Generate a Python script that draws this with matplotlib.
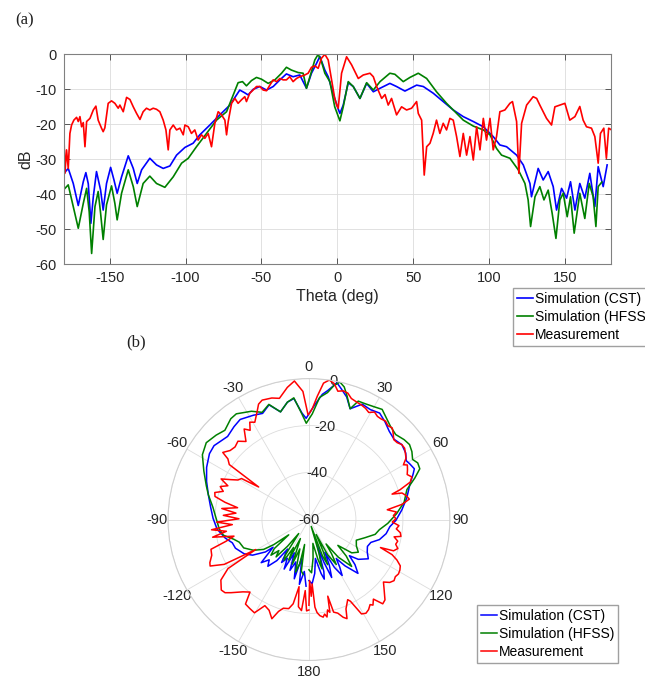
import matplotlib
matplotlib.use("Agg")
import matplotlib.pyplot as plt
import numpy as np

# Angles (deg) and gains (dB)
theta_cst = [-180, -177.2, -173.9, -170.6, -167.3, -165.6, -164, -162.3, -160.7, -158.6,
             -155.9, -154.2, -152, -149.3, -147.1, -145, -142.1, -137.7, -134.4, -131.8,
             -128.9, -123.5, -119.1, -114.7, -110.3, -105.9, -100.4, -95, -90.6, -84,
             -77.4, -70.8, -66.4, -64.3, -61, -58.8, -55.5, -51.1, -46.7, -42.3,
             -37.9, -33.6, -29.2, -24.8, -20.4, -17.1, -13.8, -11.6, -8.3, -6.1,
             -2.9, 0, 1.6, 3.8, 7.1, 10.4, 14.8, 19.2, 23.6, 28,
             34.5, 38.9, 44.4, 52.1, 56.5, 63, 69.6, 76.2, 82.8, 89.4,
             96, 102.5, 106.9, 111.3, 117.9, 122.3, 126.7, 127.7, 132.1, 135.4,
             138.7, 142, 144.2, 147.5, 150.8, 153.4, 156.3, 159.5, 162.8, 166.1,
             169.4, 171.6, 174.9, 177.5]
db_cst = [-34, -32.6, -36.9, -43.2, -36.4, -33.8, -37, -48.3, -40.7, -33.5,
          -38.8, -44.5, -36.9, -32.3, -35.9, -39.7, -35, -29, -32.6, -36.9,
          -33, -29.7, -31.6, -32.6, -31.9, -28.8, -26.6, -25.4, -23, -20.2,
          -17.3, -14.5, -11.6, -10.2, -11, -11.6, -10, -9.2, -10.2, -9.2,
          -7.3, -5.6, -6.4, -5.9, -9.7, -5.4, -2.6, -0.6, -4.5, -6.4,
          -11.1, -15, -16.9, -14.5, -8.1, -9.2, -12.6, -8.3, -10.7, -9.7,
          -8.3, -9.2, -10.5, -8.8, -9.2, -11.1, -13.5, -15.9, -17.8, -19.2,
          -20.7, -23.5, -25.9, -26.4, -28.8, -31.6, -36.9, -40.7, -32.6, -35.9,
          -33.5, -37.8, -44.5, -38.3, -41.1, -36.4, -44.5, -36.9, -41.1, -34,
          -43.5, -32.1, -37.8, -31.6]

theta_hfss = [-180, -177.2, -173.9, -170.6, -167.3, -165.1, -163.4, -161.8, -159.6, -157.5,
              -155.9, -154.2, -152, -148.7, -146.5, -145, -142.1, -137.7, -134.4, -131.8,
              -127.9, -123.5, -119.1, -113.6, -108.1, -102.6, -98.2, -92.8, -86.2, -79.6,
              -73, -68.6, -65.4, -62.5, -59.9, -56.6, -53.3, -50, -45.6, -41.2,
              -36.8, -33.6, -30.3, -25.9, -22.6, -20.4, -17.1, -14.9, -12.7, -10.5,
              -8.3, -5, -1.8, 1.6, 3.8, 7.1, 10.4, 14.8, 19.2, 23.6,
              28, 34.5, 37.8, 43.3, 47.7, 53.2, 58.7, 65.2, 71.8, 76.2,
              82.8, 89.4, 96, 100.4, 104.7, 108, 113.5, 119, 123.4, 125.5,
              127.1, 130, 133.2, 135.9, 138.7, 141.3, 143.8, 146.4, 148.6, 151.2,
              153.4, 155.8, 159.5, 162.8, 165.7, 168.3, 170.1, 171.6, 174]
db_hfss = [-38.6, -37.3, -43.5, -49.7, -42.6, -38.3, -45, -56.9, -43.5, -39.2,
           -45.4, -52.9, -43, -37.6, -42.6, -47.3, -39.7, -33, -37.8, -43.5,
           -36.9, -34.8, -36.9, -38, -35, -31.1, -29.7, -26.4, -22.6, -18.8,
           -16.4, -11.6, -8.1, -7.8, -9, -7.5, -6.6, -7.1, -8.3, -7.3,
           -5.4, -3.7, -4.5, -5.2, -5.4, -9.7, -4.9, -1.6, 0, -2.1,
           -5.4, -7.8, -15, -19, -15, -7.8, -9.2, -12.6, -8.1, -10.2,
           -7.8, -5.4, -5.7, -7.8, -6.6, -5.4, -6.9, -10.7, -14, -15.9,
           -18.8, -20.5, -21.6, -23, -26.9, -28.8, -29.7, -33, -36.9, -41.6,
           -49.2, -40.7, -37.8, -41.6, -38.8, -45.4, -52.6, -41.6, -39.7, -46.4,
           -40.7, -51.1, -39.7, -46.9, -36.9, -40.7, -49.2, -37.8, -36.5]

theta_meas = [-180, -179.4, -178.3, -177.2, -176.1, -175, -173.5, -171.7, -170.6, -169.5,
              -168.4, -167.3, -166.2, -165.1, -162.9, -160.7, -159, -157.5, -155.3, -154.2,
              -153.1, -150.9, -148.7, -146.5, -144.3, -143.2, -141, -138.8, -136.6, -134.4,
              -132.2, -130, -127.9, -125.7, -123.5, -121.3, -119.1, -116.9, -114.7, -112.9,
              -111.4, -110.3, -108.1, -105.9, -103.7, -101.5, -100.4, -98.2, -96.1, -93.9,
              -91.7, -89.5, -87.3, -85.1, -82.9, -80.7, -78.5, -76.3, -74.1, -73,
              -71.9, -69.7, -67.5, -65.4, -63.2, -61, -59.9, -57.7, -55.5, -53.3,
              -51.1, -48.9, -46.7, -44.5, -42.3, -40.1, -37.9, -35.7, -33.6, -31.4,
              -29.2, -27, -24.8, -21.5, -19.3, -17.1, -14.9, -12.7, -10.5, -8.3,
              -6.1, -3.9, -1.8, -0.5, 0.5, 2.7, 6, 9.3, 13.7, 17,
              21.4, 23.6, 25.8, 29.1, 31.3, 33.4, 35.6, 38.9, 42.2, 45.5,
              48.8, 52.1, 53.2, 55.4, 57.1, 58.7, 60.9, 63, 65.2, 67.4,
              69.6, 71.8, 74, 76.2, 78.4, 80.6, 82.8, 85, 87.2, 89.4,
              91.6, 93.8, 96, 98.1, 100.4, 102.5, 104.7, 106.9, 110.2, 113.5,
              115.2, 117.9, 119.4, 121.2, 124.5, 128.8, 131.1, 133.2, 137.6, 140.9,
              143.1, 146.4, 149.7, 152.9, 156.3, 159.5, 161.7, 163.9, 167.2, 169.4,
              171.6, 173.1, 175.3, 177, 178.5, 180]
db_meas = [-23.5, -34, -27.3, -32.6, -22.6, -20.2, -18.8, -18, -19.2, -17.8,
           -20.7, -19.5, -26.4, -19.2, -18.3, -15.9, -14.8, -18.8, -21.1, -22.1,
           -21, -14, -13.3, -14, -15.4, -14.5, -16.4, -12.3, -12.9, -15,
           -16.9, -18.6, -16.4, -15.4, -15.9, -15.4, -15.7, -16.4, -18.8, -21.6,
           -27.3, -21.6, -20.2, -21.6, -21.1, -23, -20.2, -20.7, -22.6, -21.6,
           -24.5, -23, -24, -22.6, -26.4, -19.7, -16.4, -17.3, -18.8, -23,
           -19.2, -14, -12.6, -14, -13, -12.1, -13.5, -11.1, -10.2, -9.2,
           -9.2, -10.2, -10.4, -8.8, -7.3, -7.8, -6.9, -7.3, -7.3, -6.4,
           -7.8, -6.9, -6.4, -5.9, -5.4, -3.7, -3.3, -4, -1.1, 0,
           -1.6, -7.3, -12.6, -14.5, -15.4, -5.4, -0.7, -3, -6.9, -5.9,
           -5.4, -6.4, -9.2, -12.6, -11.5, -14.5, -12.6, -17.3, -15, -15.9,
           -15.4, -13.5, -16.9, -18.8, -34.5, -26.4, -25.4, -22.6, -18.8, -22.6,
           -19.7, -21.6, -18.3, -18.8, -23.5, -29.2, -22.6, -28.8, -23.5, -30.2,
           -20.7, -27.3, -18.3, -24.5, -18.3, -27.3, -23.5, -16.4, -15.9, -14,
           -13.5, -19.2, -34, -19.7, -14.5, -12.1, -12.6, -14.5, -18.3, -20.2,
           -15, -14.5, -14, -18.8, -17.8, -14.9, -18.8, -20.7, -21.1, -23.5,
           -31.1, -22.6, -21.1, -29.7, -21.1, -21.5]

x_ticks = [-150, -100, -50, 0, 50, 100, 150]
y_ticks = [0, -10, -20, -30, -40, -50, -60]
polar_angles = [0, 30, 60, 90, 120, 150, 180, 210, 240, 270, 300, 330]
polar_labels = ["0", "30", "60", "90", "120", "150", "180",
                "-150", "-120", "-90", "-60", "-30"]
r_ticks = [-60, -40, -20, 0]
series_labels = ["Simulation (CST)", "Simulation (HFSS)", "Measurement"]

COLORS = ["#0000ff", "#008000", "#ff0000"]
SANS = ["Liberation Sans", "DejaVu Sans"]
SERIF = ["Liberation Serif", "DejaVu Serif"]
TXT = "#262626"
GRID = "#dcdcdc"

plt.rcParams["font.family"] = SANS
plt.rcParams["font.size"] = 10
plt.rcParams["axes.unicode_minus"] = False  # plain hyphens, as in the source figure

fig = plt.figure(figsize=(6.45, 6.8), dpi=100)

series = [
    (theta_cst, db_cst),
    (theta_hfss, db_hfss),
    (theta_meas, db_meas),
]

# ---- (a) Cartesian pattern ----
ax = fig.add_axes([0.0992, 0.6113, 0.848, 0.3088])
for (th, db), c, lab in zip(series, COLORS, series_labels):
    ax.plot(th, db, color=c, lw=1.2, label=lab)
ax.set_xlim(-180, 180)
ax.set_ylim(-60, 0)
ax.set_xticks(x_ticks)
ax.set_yticks(y_ticks)
ax.grid(True, color=GRID, lw=0.6)
ax.set_axisbelow(True)
ax.tick_params(direction="in", top=True, right=True, length=4, width=0.6,
               colors="#404040", labelcolor=TXT, labelsize=10.5, pad=5)
for sp in ax.spines.values():
    sp.set_color("#808080")
    sp.set_linewidth(0.8)
ax.set_xlabel("Theta (deg)", fontsize=11.5, color=TXT, labelpad=3)
ax.set_ylabel("dB", fontsize=11.5, color=TXT, labelpad=2)
leg_kw = dict(fontsize=10, fancybox=False, framealpha=1, edgecolor="#a0a0a0",
              handlelength=1.15, handletextpad=0.1, labelspacing=0.28,
              borderpad=0.3, borderaxespad=0)
fig.legend(*ax.get_legend_handles_labels(), loc="upper left",
           bbox_to_anchor=(513 / 645, 1 - 288 / 680), **leg_kw)
fig.text(25 / 645, 1 - 20 / 680, "(a)", family=SERIF, fontsize=12,
         ha="center", va="center", color="#202020")

# ---- (b) polar pattern (drawn mirrored, as in the original) ----
pax = fig.add_axes([0.2605, 0.0285, 0.437, 0.415], projection="polar")
pax.set_theta_zero_location("N")
pax.set_theta_direction(-1)
for (th, db), c, lab in zip(series, COLORS, series_labels):
    pax.plot(np.deg2rad(-np.asarray(th)), db, color=c, lw=1.1, label=lab)
pax.set_rlim(-60, 0)
pax.set_rticks(r_ticks)
pax.set_yticklabels([str(v) for v in r_ticks])
pax.set_rlabel_position(10)
pax.set_thetagrids(polar_angles, polar_labels)
pax.grid(True, color=GRID, lw=0.6)
pax.spines["polar"].set_color("#d0d0d0")
pax.spines["polar"].set_linewidth(0.8)
pax.tick_params(axis="x", labelsize=10.5, colors=TXT, pad=-2.5)
pax.tick_params(axis="y", labelsize=10.5, colors=TXT)
for t in pax.get_yticklabels():
    t.set_ha("center")
    t.set_va("center")
fig.legend(*pax.get_legend_handles_labels(), loc="upper left",
           bbox_to_anchor=(477 / 645, 1 - 605 / 680), **leg_kw)
fig.text(136 / 645, 1 - 342 / 680, "(b)", family=SERIF, fontsize=12,
         ha="center", va="center", color="#202020")

fig.savefig("out.png", dpi=100)
